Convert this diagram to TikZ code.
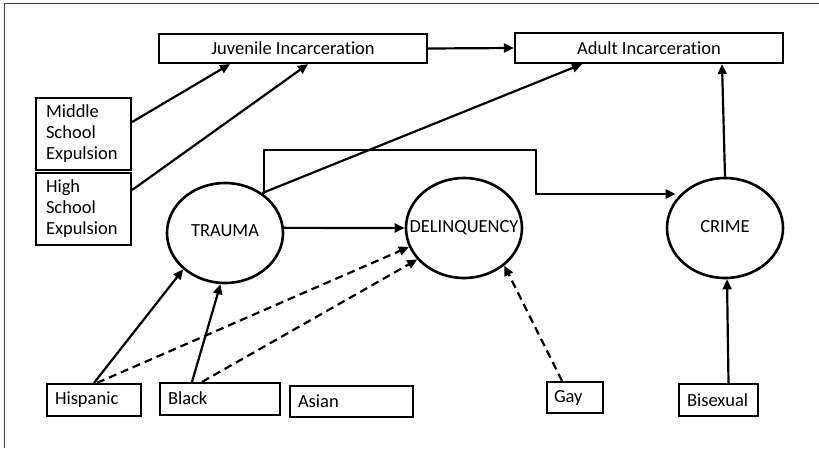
\documentclass[tikz,border=0pt]{standalone}
\usepackage{fontspec}
\setmainfont{Carlito}[Ligatures=NoCommon]
\usetikzlibrary{arrows.meta,shapes.geometric,calc}
\begin{document}
\begin{tikzpicture}[x=1pt,y=-1pt,
  every node/.style={font=\fontsize{18.5}{21}\selectfont},
  box/.style={draw,line width=2.2pt,rectangle,inner sep=0pt},
  tbox/.style={box,align=left,inner xsep=8pt,inner ysep=0pt},
  circ/.style={draw,line width=2.6pt,ellipse,minimum width=116pt,minimum height=100pt,inner sep=0pt},
  arr/.style={line width=2.2pt,-{Triangle[length=10pt,width=9pt]}},
  darr/.style={arr,dash pattern=on 8pt off 5pt}
]
\useasboundingbox (0,0) rectangle (819,448);
\draw[black!75,line width=1pt] (4,448) -- (4,3.5) -- (819,3.5);

\node[box,minimum width=268pt,minimum height=29pt] (juv) at (293,48.5) {Juvenile Incarceration};
\node[box,minimum width=268pt,minimum height=30pt] (adult) at (649,48) {Adult Incarceration};

\node[box,text width=75pt,align=left,inner xsep=10pt,minimum height=72pt] (mid) at (83.5,134) {Middle\\School\\Expulsion};
\node[box,text width=75pt,align=left,inner xsep=10pt,minimum height=72pt] (high) at (83.5,209) {High\\School\\Expulsion};

\node[circ] (trauma) at (225,233) {\raisebox{4pt}{\makebox[0pt][c]{TRAUMA}}};
\node[circ] (delinq) at (464,228) {\raisebox{4pt}{\makebox[0pt][c]{DELINQUENCY}}};
\node[circ] (crime) at (725,228) {\raisebox{4pt}{\makebox[0pt][c]{CRIME}}};

\node[tbox,text width=78pt,minimum height=32pt] (hisp) at (94,400) {Hispanic};
\node[tbox,text width=104pt,minimum height=32pt] (black) at (220,399) {\raisebox{2pt}{Black}};
\node[tbox,text width=107pt,minimum height=31pt] (asian) at (351.5,401.5) {Asian};
\node[tbox,text width=42pt,inner xsep=7pt,minimum height=31pt] (gay) at (575,397.5) {\raisebox{1pt}{Gay}};
\node[tbox,text width=63pt,minimum height=32pt] (bisex) at (718.5,400) {Bisexual};

% connectors
\draw[arr] (juv.east) -- (adult.west);
\draw[arr] ([yshift=12pt]mid.east) -- ([xshift=-63pt]juv.south);
\draw[arr] ([yshift=19pt]high.east) -- ([xshift=15pt]juv.south);
\draw[arr] (trauma.47) -- ([xshift=-67pt]adult.south);
\coordinate (e1) at (264,150);
\coordinate (e2) at (536,150);
\coordinate (e3) at (536,194);
\draw[arr] (trauma.45) -- (trauma.45 |- e1) -- (e2) -- (e3) -- (e3 -| crime.150);
\draw[arr] (trauma.5) -- (delinq.west);
\draw[arr] (crime.north) -- ([xshift=-3pt]crime.north |- adult.south);

\draw[arr] (hisp.north) -- (trauma.221);
\draw[arr] ([xshift=-28pt]black.north) -- (trauma.265);
\draw[darr] ([xshift=3pt]hisp.north) -- (delinq.199);
\draw[darr] ([xshift=-18pt]black.north) -- (delinq.214);
\draw[darr] ([xshift=-13pt]gay.north) -- (delinq.317);
\draw[arr] ([xshift=10pt]bisex.north) -- ([xshift=2pt]crime.south);
\end{tikzpicture}
\end{document}
